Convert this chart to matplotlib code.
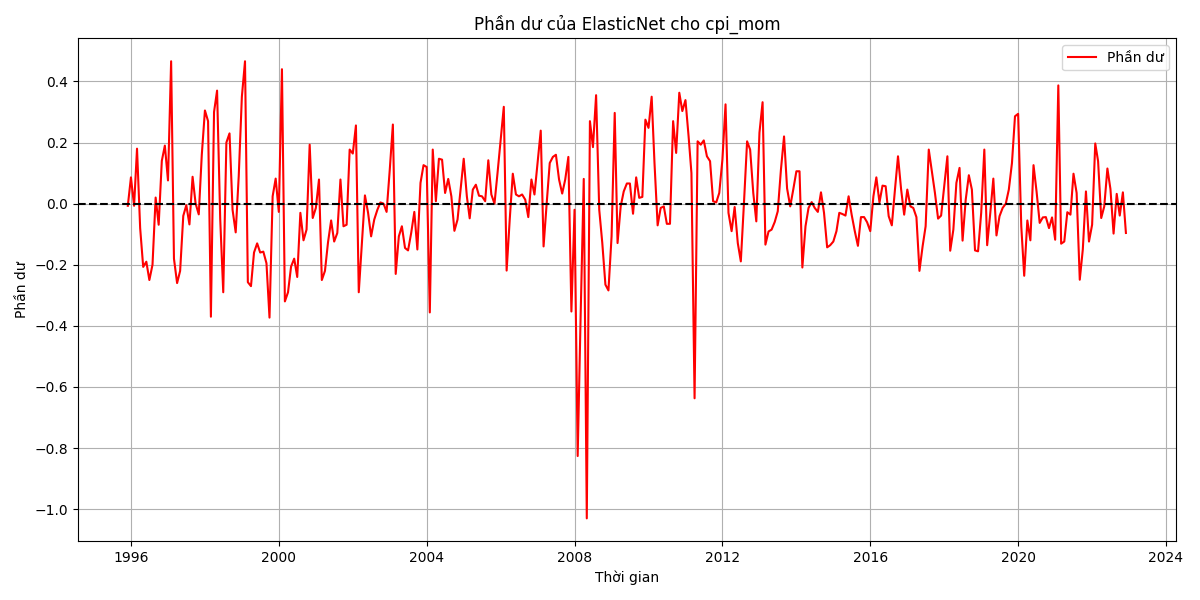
import pandas as pd
import matplotlib
matplotlib.use("Agg")
import matplotlib.pyplot as plt

# monthly residuals, 1995-12 .. 2022-12
start_month = "1995-12-01"
residuals = [
    -0.007, 0.086, -0.007, 0.18, -0.08, -0.207, -0.19, -0.25, -0.20, 0.02,
    -0.069, 0.14, 0.19, 0.076, 0.466, -0.18, -0.26, -0.22, -0.04, -0.005,
    -0.068, 0.088, 0.0, -0.035, 0.16, 0.305, 0.27, -0.37, 0.30, 0.37,
    -0.05, -0.29, 0.20, 0.23, -0.02, -0.094, 0.09, 0.35, 0.466, -0.257,
    -0.27, -0.16, -0.13, -0.16, -0.157, -0.195, -0.373, 0.024, 0.082, -0.027,
    0.44, -0.32, -0.29, -0.206, -0.18, -0.24, -0.03, -0.12, -0.085, 0.193,
    -0.047, -0.014, 0.079, -0.25, -0.22, -0.127, -0.055, -0.124, -0.096, 0.079,
    -0.074, -0.069, 0.177, 0.164, 0.256, -0.29, -0.13, 0.027, -0.03, -0.107,
    -0.052, -0.02, 0.004, 0.0, -0.027, 0.11, 0.259, -0.23, -0.107, -0.074,
    -0.145, -0.153, -0.096, -0.027, -0.15, 0.068, 0.126, 0.12, -0.356, 0.177,
    0.008, 0.147, 0.144, 0.035, 0.081, 0.024, -0.089, -0.052, 0.046, 0.147,
    0.024, -0.048, 0.046, 0.062, 0.026, 0.024, 0.008, 0.142, 0.03, 0.0,
    0.1, 0.21, 0.317, -0.219, -0.05, 0.098, 0.03, 0.024, 0.03, 0.013,
    -0.044, 0.079, 0.03, 0.133, 0.239, -0.14, 0.002, 0.133, 0.153, 0.16,
    0.079, 0.033, 0.079, 0.153, -0.353, -0.02, -0.826, -0.37, 0.081, -1.03,
    0.27, 0.185, 0.355, -0.02, -0.128, -0.265, -0.284, -0.107, 0.297, -0.129,
    -0.009, 0.04, 0.066, 0.066, -0.033, 0.086, 0.019, 0.022, 0.275, 0.248,
    0.35, 0.133, -0.071, -0.014, -0.009, -0.066, -0.066, 0.27, 0.166, 0.363,
    0.303, 0.339, 0.22, 0.1, -0.637, 0.204, 0.193, 0.207, 0.155, 0.139,
    0.008, 0.004, 0.035, 0.144, 0.325, -0.03, -0.09, -0.011, -0.129, -0.189,
    0.002, 0.204, 0.177, 0.035, -0.058, 0.232, 0.332, -0.134, -0.091, -0.085,
    -0.06, -0.025, 0.11, 0.22, 0.05, -0.009, 0.046, 0.106, 0.106, -0.209,
    -0.074, -0.014, 0.005, -0.014, -0.027, 0.037, -0.03, -0.143, -0.136, -0.124,
    -0.09, -0.03, -0.034, -0.039, 0.024, -0.036, -0.09, -0.138, -0.044, -0.044,
    -0.061, -0.09, 0.024, 0.086, 0.004, 0.059, 0.057, -0.041, -0.071, 0.046,
    0.155, 0.046, -0.036, 0.046, -0.009, -0.014, -0.044, -0.22, -0.14, -0.074,
    0.177, 0.106, 0.035, -0.049, -0.039, 0.057, 0.155, -0.154, -0.085, 0.068,
    0.117, -0.121, 0.013, 0.093, 0.046, -0.153, -0.156, -0.03, 0.177, -0.136,
    -0.03, 0.082, -0.104, -0.041, -0.014, 0.0, 0.046, 0.133, 0.286, 0.294,
    -0.074, -0.236, -0.055, -0.12, 0.126, 0.04, -0.063, -0.045, -0.044, -0.08,
    -0.045, -0.118, 0.387, -0.131, -0.124, -0.028, -0.036, 0.098, 0.035, -0.249,
    -0.15, 0.04, -0.124, -0.069, 0.197, 0.139, -0.047, -0.009, 0.115, 0.048,
    -0.098, 0.032, -0.039, 0.037, -0.096,
]

dates = pd.date_range(start_month, periods=len(residuals), freq="MS")

fig, ax = plt.subplots(figsize=(12, 6))
ax.plot(dates, residuals, color="red", label="Phần dư")
ax.axhline(0, color="black", linestyle="--")
ax.set_title("Phần dư của ElasticNet cho cpi_mom")
ax.set_xlabel("Thời gian")
ax.set_ylabel("Phần dư")
ax.legend()
ax.grid(True)

plt.tight_layout()
plt.savefig("out.png", dpi=100)
